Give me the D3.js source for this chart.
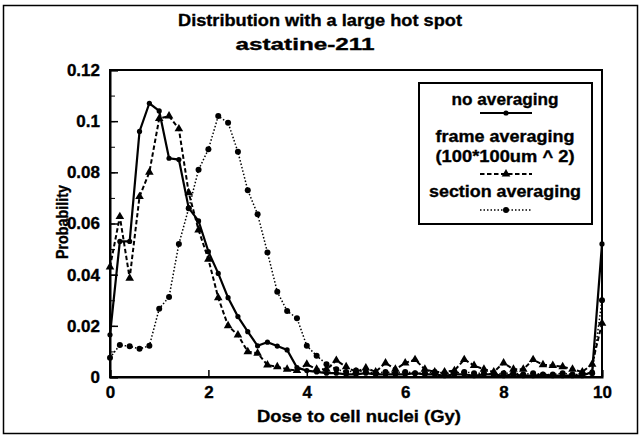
<!DOCTYPE html>
<html>
<head>
<meta charset="utf-8">
<script src="https://cdn.jsdelivr.net/npm/d3@7"></script>
<style>
  body { margin: 0; background: #fff; }
  text { font-family: "Liberation Sans", Arial, sans-serif; font-weight: bold; fill: #000; stroke: #000; stroke-width: 0.35px; }
</style>
</head>
<body>
<div id="vis"></div>
<script>
// Data (dose in Gy, probability)
let doses = [0, 0.2, 0.4, 0.6, 0.8, 1, 1.2, 1.4, 1.6, 1.8,
  2, 2.2, 2.4, 2.6, 2.8, 3, 3.2, 3.4, 3.6, 3.8,
  4, 4.2, 4.4, 4.6, 4.8, 5, 5.2, 5.4, 5.6, 5.8,
  6, 6.2, 6.4, 6.6, 6.8, 7, 7.2, 7.4, 7.6, 7.8,
  8, 8.2, 8.4, 8.6, 8.8, 9, 9.2, 9.4, 9.6, 9.8,
  10];

let noAveraging = [0.0165, 0.053, 0.053, 0.096, 0.107, 0.104, 0.0855, 0.085, 0.066, 0.061,
  0.049, 0.0405, 0.031, 0.0236, 0.0177, 0.0122, 0.0136, 0.0121, 0.0106, 0.0037,
  0.0025, 0.002, 0.0015, 0.0015, 0.001, 0.001, 0.0015, 0.001, 0.001, 0.001,
  0.001, 0.0015, 0.001, 0.001, 0.0005, 0.001, 0.001, 0.0005, 0.001, 0.001,
  0.0005, 0.001, 0.0005, 0.0005, 0.001, 0.0005, 0.0005, 0.0005, 0.0005, 0.002,
  0.052];

let frameAveraging = [0.043, 0.0627, 0.0386, 0.0705, 0.080, 0.101, 0.102, 0.097, 0.072, 0.0575,
  0.046, 0.031, 0.020, 0.0164, 0.0099, 0.0093, 0.0047, 0.004, 0.003, 0.0025,
  0.005, 0.003, 0.003, 0.0065, 0.004, 0.002, 0.0035, 0.002, 0.0055, 0.003,
  0.0055, 0.0068, 0.003, 0.002, 0.002, 0.0025, 0.0068, 0.0045, 0.003, 0.002,
  0.0055, 0.003, 0.003, 0.0068, 0.0048, 0.0045, 0.004, 0.003, 0.002, 0.005,
  0.021];

let sectionAveraging = [0.0075, 0.0125, 0.012, 0.011, 0.0122, 0.0267, 0.0313, 0.052, 0.066, 0.081,
  0.089, 0.102, 0.0994, 0.088, 0.073, 0.0636, 0.0487, 0.0333, 0.0258, 0.023,
  0.0122, 0.0083, 0.005, 0.003, 0.002, 0.0025, 0.002, 0.0015, 0.002, 0.0015,
  0.002, 0.0015, 0.0015, 0.002, 0.0015, 0.0015, 0.002, 0.0015, 0.0015, 0.001,
  0.0015, 0.0015, 0.001, 0.0015, 0.001, 0.001, 0.0015, 0.001, 0.001, 0.0015,
  0.03];

let xTicks = [0, 2, 4, 6, 8, 10];
let yTicks = [0, 0.02, 0.04, 0.06, 0.08, 0.1, 0.12];
let yTickLabels = ['0', '0.02', '0.04', '0.06', '0.08', '0.1', '0.12'];

let width = 641,
  height = 439;

let margin = { top: 70, right: 39, bottom: 62, left: 110 };

let svg = d3.select('#vis')
  .append('svg')
  .attr('width', width)
  .attr('height', height);

// outer border of the figure
svg.append('rect')
  .attr('x', 3.5).attr('y', 5.5)
  .attr('width', 634).attr('height', 428)
  .attr('fill', 'none').attr('stroke', '#000').attr('stroke-width', 1.5);

let xScale = d3.scaleLinear()
  .domain([0, 10])
  .range([margin.left, width - margin.right]);

let yScale = d3.scaleLinear()
  .domain([0, 0.12])
  .range([height - margin.bottom, margin.top]);

// plot frame
svg.append('rect')
  .attr('x', xScale(0)).attr('y', yScale(0.12))
  .attr('width', xScale(10) - xScale(0))
  .attr('height', yScale(0) - yScale(0.12))
  .attr('fill', 'none').attr('stroke', '#000').attr('stroke-width', 2);

// minor y ticks (every 0.01), inward
let yMinor = svg.append('g')
  .attr('transform', `translate(${xScale(0)},0)`)
  .call(d3.axisLeft(yScale).tickValues(d3.range(0, 0.121, 0.01)).tickSize(-5).tickFormat(''));
yMinor.select('.domain').remove();

let yAxis = svg.append('g')
  .attr('transform', `translate(${xScale(0)},0)`)
  .call(d3.axisLeft(yScale)
    .tickValues(yTicks)
    .tickSize(-8)
    .tickPadding(10)
    .tickFormat((d, i) => yTickLabels[i]));
yAxis.select('.domain').attr('stroke-width', 2);
yAxis.selectAll('.tick line').attr('stroke-width', 1.5);
yAxis.selectAll('text').style('font-size', '17px').attr('fill', '#000');

let xAxis = svg.append('g')
  .attr('transform', `translate(0,${yScale(0)})`)
  .call(d3.axisBottom(xScale)
    .tickValues(xTicks)
    .tickSize(-7)
    .tickPadding(9)
    .tickFormat(d3.format('d')));
xAxis.select('.domain').attr('stroke-width', 2);
xAxis.selectAll('.tick line').attr('stroke-width', 1.5);
xAxis.selectAll('text').style('font-size', '17px').attr('fill', '#000');

// titles
svg.append('text')
  .attr('x', 320).attr('y', 26)
  .attr('text-anchor', 'middle')
  .style('font-size', '17px')
  .attr('textLength', 284).attr('lengthAdjust', 'spacingAndGlyphs')
  .text('Distribution with a large hot spot');

svg.append('text')
  .attr('x', 305).attr('y', 50)
  .attr('text-anchor', 'middle')
  .style('font-size', '17px')
  .attr('textLength', 139).attr('lengthAdjust', 'spacingAndGlyphs')
  .text('astatine-211');

svg.append('text')
  .attr('x', 359).attr('y', 422)
  .attr('text-anchor', 'middle')
  .style('font-size', '17px')
  .attr('textLength', 204).attr('lengthAdjust', 'spacingAndGlyphs')
  .text('Dose to cell nuclei (Gy)');

svg.append('text')
  .attr('transform', 'translate(68,222) rotate(-90)')
  .attr('text-anchor', 'middle')
  .style('font-size', '17px')
  .attr('textLength', 74).attr('lengthAdjust', 'spacingAndGlyphs')
  .text('Probability');

// series
let series = [
  { name: 'section', values: sectionAveraging, dash: '1.5,2', width: 1.5, symbol: 'circle', r: 3 },
  { name: 'frame', values: frameAveraging, dash: '4.5,2.5', width: 2, symbol: 'triangle', r: 3 },
  { name: 'none', values: noAveraging, dash: null, width: 2.2, symbol: 'circle', r: 2.6 }
];

let line = d3.line()
  .x((d, i) => xScale(doses[i]))
  .y(d => yScale(d));

series.forEach(function(s) {
  svg.append('path')
    .datum(s.values)
    .attr('fill', 'none')
    .attr('stroke', '#000')
    .attr('stroke-width', s.width)
    .attr('stroke-dasharray', s.dash)
    .attr('d', line);

  if (s.symbol === 'circle') {
    svg.selectAll(null)
      .data(s.values)
      .enter()
      .append('circle')
      .attr('cx', (d, i) => xScale(doses[i]))
      .attr('cy', d => yScale(d))
      .attr('r', s.r)
      .attr('fill', '#000');
  } else {
    svg.selectAll(null)
      .data(s.values)
      .enter()
      .append('path')
      .attr('d', d3.symbol(d3.symbolTriangle).size(32))
      .attr('transform', (d, i) => `translate(${xScale(doses[i])},${yScale(d)})`)
      .attr('fill', '#000');
  }
});

// legend
let legend = svg.append('g');
legend.append('rect')
  .attr('x', 419).attr('y', 83)
  .attr('width', 173).attr('height', 141)
  .attr('fill', '#fff').attr('stroke', '#000').attr('stroke-width', 2);

let legendText = [
  { t: 'no averaging', y: 105, w: 107 },
  { t: 'frame averaging', y: 142, w: 139 },
  { t: '(100*100um ^ 2)', y: 162, w: 139 },
  { t: 'section averaging', y: 197, w: 152 }
];
legendText.forEach(function(l) {
  legend.append('text')
    .attr('x', 505).attr('y', l.y)
    .attr('text-anchor', 'middle')
    .style('font-size', '17px')
    .attr('textLength', l.w).attr('lengthAdjust', 'spacingAndGlyphs')
    .text(l.t);
});

let legendSamples = [
  { s: series[2], y: 113 },
  { s: series[1], y: 174 },
  { s: series[0], y: 210 }
];
legendSamples.forEach(function(l) {
  legend.append('line')
    .attr('x1', 480).attr('x2', 532)
    .attr('y1', l.y).attr('y2', l.y)
    .attr('stroke', '#000')
    .attr('stroke-width', l.s.width)
    .attr('stroke-dasharray', l.s.dash);
  if (l.s.symbol === 'circle') {
    legend.append('circle').attr('cx', 506).attr('cy', l.y).attr('r', l.s.r).attr('fill', '#000');
  } else {
    legend.append('path')
      .attr('d', d3.symbol(d3.symbolTriangle).size(32))
      .attr('transform', `translate(506,${l.y})`)
      .attr('fill', '#000');
  }
});
</script>
</body>
</html>
